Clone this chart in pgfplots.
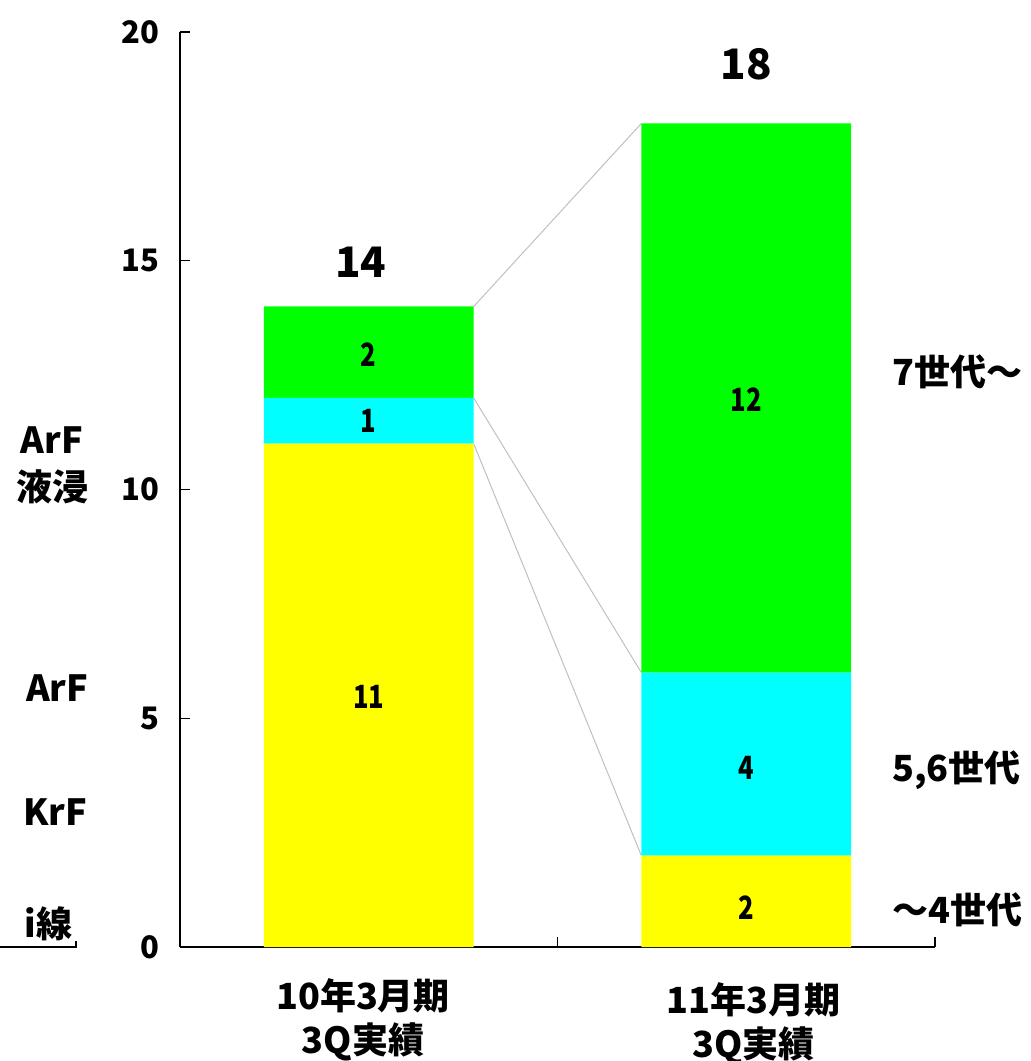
\documentclass[border=0pt]{standalone}
\usepackage{graphicx}
\usepackage{pgfplots}
\pgfplotsset{compat=1.18}
\usepackage{fontspec}
\setmainfont{Noto Sans CJK JP}
\definecolor{cY}{RGB}{255,255,0}
\definecolor{cC}{RGB}{0,255,255}
\definecolor{cG}{RGB}{0,255,0}
\definecolor{cL}{RGB}{192,192,192}
\tikzset{
  seg/.style={font=\bfseries\fontsize{16}{16}\selectfont},
  tot/.style={font=\bfseries\fontsize{21}{21}\selectfont},
  lab/.style={font=\bfseries\fontsize{18}{22}\selectfont},
  rlab/.style={font=\bfseries\fontsize{18}{18}\selectfont, anchor=west, inner sep=0pt},
}
\newcommand{\nar}[1]{\scalebox{0.8}[1]{#1}}
\begin{document}
\begin{tikzpicture}
\path[use as bounding box] (-90pt,-57pt) rectangle (425pt,473.5pt);
\begin{axis}[
  at={(0,0)}, anchor=south west,
  scale only axis, width=377.5pt, height=457.5pt,
  ybar stacked, bar width=0.556,
  xmin=-0.5, xmax=1.5, ymin=0, ymax=20,
  axis x line*=bottom, axis y line*=left,
  xtick={-0.5,0.5,1.5}, xticklabels={},
  ytick={0,5,10,15,20},
  tick align=inside, major tick length=5pt,
  tick style={black, line width=0.7pt},
  axis line style={black, line width=0.7pt},
  clip=false,
  /pgf/number format/assume math mode=true,
  yticklabel style={font=\bfseries\fontsize{15.5}{15.5}\selectfont, xshift=-7pt},
]
\addplot[fill=cY, draw=none] coordinates {(0,11) (1,2)};
\addplot[fill=cC, draw=none] coordinates {(0,1) (1,4)};
\addplot[fill=cG, draw=none] coordinates {(0,2) (1,12)};

\draw[cL, line width=0.5pt] (axis cs:0.278,14) -- (axis cs:0.722,18);
\draw[cL, line width=0.5pt] (axis cs:0.278,12) -- (axis cs:0.722,6);
\draw[cL, line width=0.5pt] (axis cs:0.278,11) -- (axis cs:0.722,2);

\coordinate (a1) at (axis cs:0,12.94);
\coordinate (a2) at (axis cs:0,11.5);
\coordinate (a3) at (axis cs:0,5.46);
\coordinate (b1) at (axis cs:1,11.96);
\coordinate (b2) at (axis cs:1,3.91);
\coordinate (b3) at (axis cs:1,0.87);

\node[tot] at (axis cs:-0.021,14.96) {14};
\node[tot] at (axis cs:1.0,19.29) {18};

\node[lab, align=center] at (axis cs:-0.015,-1.60) {10年3月期\\3Q実績};
\node[lab, align=center] at (axis cs:1.02,-1.68) {11年3月期\\3Q実績};

\node[lab] at (axis cs:-0.839,11.08) {ArF};
\node[lab] at (axis cs:-0.839,10.05) {液浸};
\node[lab] at (axis cs:-0.825,5.66) {ArF};
\node[lab] at (axis cs:-0.831,2.95) {KrF};
\node[lab] at (axis cs:-0.849,0.50) {i線};
\draw[black, line width=0.7pt] (axis cs:-0.976,0) -- (axis cs:-0.775,0) -- (axis cs:-0.775,0.13);

\node[rlab] at (axis cs:1.386,12.57) {7世代～};
\node[rlab] at (axis cs:1.386,3.87) {5,6世代};
\node[rlab] at (axis cs:1.386,0.81) {～4世代};
\end{axis}
\node[seg] at (a1) {\nar{2}};
\node[seg] at (a2) {\nar{1}};
\node[seg] at (a3) {\nar{11}};
\node[seg] at (b1) {\nar{12}};
\node[seg] at (b2) {\nar{4}};
\node[seg] at (b3) {\nar{2}};
\end{tikzpicture}
\end{document}
